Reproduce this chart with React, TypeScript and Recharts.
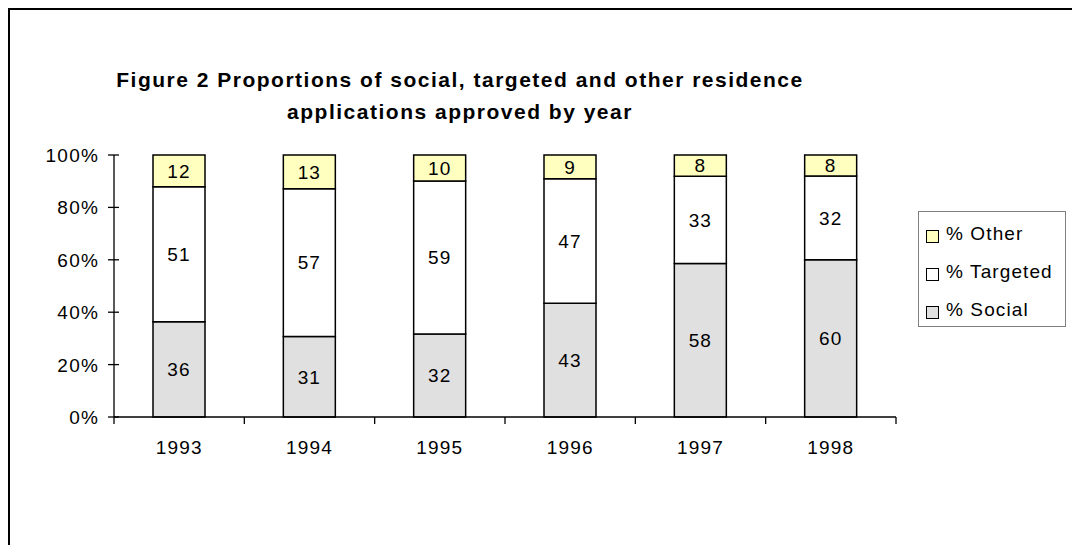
import React from "react";
import { BarChart, Bar, XAxis, YAxis, LabelList } from "recharts";

const years = ["1993", "1994", "1995", "1996", "1997", "1998"];
const social = [36, 31, 32, 43, 58, 60];
const targeted = [51, 57, 59, 47, 33, 32];
const other = [12, 13, 10, 9, 8, 8];
const yTicks = [0, 0.2, 0.4, 0.6, 0.8, 1];

const data = years.map((year, i) => ({
  year,
  social: social[i],
  targeted: targeted[i],
  other: other[i],
}));

const FONT = "'Liberation Sans', Arial, sans-serif";

const legendItems = [
  { label: "% Other", fill: "#FFFFC0" },
  { label: "% Targeted", fill: "#FFFFFF" },
  { label: "% Social", fill: "#E0E0E0" },
];

// y ticks cross the axis line
const YTick = (props: any) => {
  const { x, y, payload } = props;
  return (
    <g>
      <line x1={x - 6} x2={x + 5} y1={y} y2={y} stroke="#000" strokeWidth={1.3} />
      <text x={x - 15} y={y} dy={7} textAnchor="end" fontSize={19} fontFamily={FONT} letterSpacing={1.2} fill="#000">
        {`${Math.round(payload.value * 100)}%`}
      </text>
    </g>
  );
};

// x ticks sit on the category boundaries
const XTick = (props: any) => {
  const { x, y, payload, index } = props;
  const off = payload.offset || 65;
  return (
    <g>
      {index === 0 && <line x1={x - off} x2={x - off} y1={y} y2={y + 7} stroke="#000" strokeWidth={1.3} />}
      <line x1={x + off} x2={x + off} y1={y} y2={y + 7} stroke="#000" strokeWidth={1.3} />
      <text x={x} y={y} dy={37} textAnchor="middle" fontSize={19} fontFamily={FONT} letterSpacing={1.2} fill="#000">
        {payload.value}
      </text>
    </g>
  );
};

const LegendBox = () => (
  <div
    style={{
      position: "absolute",
      left: 910,
      top: 203,
      width: 148,
      height: 116,
      border: "1px solid #808080",
      boxSizing: "border-box",
      background: "#fff",
      fontFamily: FONT,
      fontSize: 19,
      letterSpacing: 1.1,
    }}
  >
    {legendItems.map((it, i) => (
      <div key={it.label} style={{ position: "absolute", left: 7, top: 10 + i * 38, height: 24, display: "flex", alignItems: "center", whiteSpace: "nowrap" }}>
        <span style={{ display: "inline-block", width: 11, height: 11, border: "1px solid #000", background: it.fill, marginRight: 7, marginTop: 4 }} />
        <span>{it.label}</span>
      </div>
    ))}
  </div>
);

const labelStyle = { fontSize: 19, fontFamily: FONT, fill: "#000", letterSpacing: 1.1 };

export default function App() {
  return (
    <div style={{ position: "relative", width: 1072, height: 537, fontFamily: FONT }}>
      <div style={{ position: "absolute", left: 0, top: 0, width: 1072, height: 2, background: "#000" }} />
      <div style={{ position: "absolute", left: 0, top: 0, width: 2, height: 537, background: "#000" }} />
      <div
        style={{
          position: "absolute",
          left: 0,
          width: 904,
          top: 56,
          textAlign: "center",
          fontWeight: "bold",
          fontSize: 21,
          letterSpacing: 1.5,
          lineHeight: "32px",
          color: "#000",
          whiteSpace: "nowrap",
        }}
      >
        Figure 2 Proportions of social, targeted and other residence
        <br />
        applications approved by year
      </div>
      <BarChart
        width={1072}
        height={537}
        data={data}
        stackOffset="expand"
        margin={{ top: 147, right: 184, bottom: 98, left: 46 }}
        style={{ position: "absolute", left: 0, top: 0 }}
      >
        <XAxis
          dataKey="year"
          xAxisId="main"
          height={30}
          tickSize={0}
          tickMargin={0}
          tickLine={false}
          axisLine={{ stroke: "#000", strokeWidth: 1.3 }}
          tick={<XTick />}
          interval={0}
        />
        <XAxis dataKey="year" xAxisId="top" orientation="top" height={0} tick={false} tickLine={false} axisLine={{ stroke: "#808080", strokeWidth: 1.3 }} />
        <YAxis
          yAxisId="main"
          width={60}
          domain={[0, 1]}
          ticks={yTicks}
          tickSize={0}
          tickMargin={0}
          tickLine={false}
          axisLine={{ stroke: "#000", strokeWidth: 1.3 }}
          tick={<YTick />}
          interval={0}
        />
        <YAxis yAxisId="right" orientation="right" width={0} domain={[0, 1]} tick={false} tickLine={false} axisLine={{ stroke: "#808080", strokeWidth: 1.3 }} />
        <Bar dataKey="social" stackId="a" xAxisId="main" yAxisId="main" fill="#E0E0E0" stroke="#000" strokeWidth={1.5} barSize={52} isAnimationActive={false}>
          <LabelList dataKey="social" position="center" style={labelStyle} />
        </Bar>
        <Bar dataKey="targeted" stackId="a" xAxisId="main" yAxisId="main" fill="#FFFFFF" stroke="#000" strokeWidth={1.5} barSize={52} isAnimationActive={false}>
          <LabelList dataKey="targeted" position="center" style={labelStyle} />
        </Bar>
        <Bar dataKey="other" stackId="a" xAxisId="main" yAxisId="main" fill="#FFFFC0" stroke="#000" strokeWidth={1.5} barSize={52} isAnimationActive={false}>
          <LabelList dataKey="other" position="center" style={labelStyle} />
        </Bar>
      </BarChart>
      <LegendBox />
    </div>
  );
}
